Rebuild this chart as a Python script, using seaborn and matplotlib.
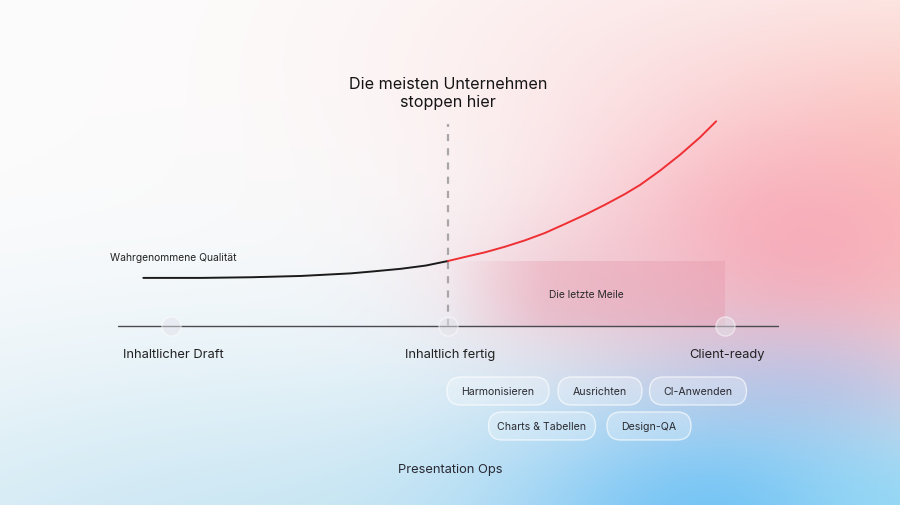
import numpy as np
import pandas as pd
import matplotlib.pyplot as plt
import seaborn as sns
from matplotlib.patches import FancyBboxPatch

# data: stage position (0 = draft, 1 = content done, 2 = client-ready), perceived quality (1.0 = content done)
stage_labels = ["Inhaltlicher Draft", "Inhaltlich fertig", "Client-ready"]
stage_pos = [0, 1, 2]

before_x = [-0.10, 0.11, 0.29, 0.47, 0.65, 0.73, 0.83, 0.92, 1.00]
before_q = [0.74, 0.74, 0.75, 0.77, 0.81, 0.84, 0.88, 0.93, 1.00]

after_x = [1.000, 1.061, 1.134, 1.206, 1.278, 1.350, 1.422, 1.495, 1.567,
           1.639, 1.693, 1.765, 1.838, 1.910, 1.968]
after_q = [1.000, 1.062, 1.134, 1.220, 1.318, 1.431, 1.569, 1.712, 1.866,
           2.031, 2.169, 2.389, 2.635, 2.903, 3.149]

stop_stage = 1
stop_label = "Die meisten Unternehmen\nstoppen hier"
curve_label = "Wahrgenommene Qualität"
last_mile_label = "Die letzte Meile"
pill_row1 = ["Harmonisieren", "Ausrichten", "CI-Anwenden"]
pill_row2 = ["Charts & Tabellen", "Design-QA"]
footer = "Presentation Ops"

sns.set_theme(style="white")
plt.rcParams["font.family"] = ["Inter", "DejaVu Sans"]

W, H = 900, 506
fig = plt.figure(figsize=(9, 5.06), dpi=100)

# background gradient (pixel layer)
bg = fig.add_axes([0, 0, 1, 1])
yy, xx = np.mgrid[0:H, 0:W].astype(float)
img = np.ones((H, W, 3)) * np.array([253, 252, 252]) / 255


def blob(img, cx, cy, rx, ry, color, strength):
    w = strength * np.exp(-(((xx - cx) / rx) ** 2 + ((yy - cy) / ry) ** 2))
    return img * (1 - w[..., None]) + np.array(color)[None, None, :] / 255 * w[..., None]


img = blob(img, 680, 60, 330, 170, (252, 228, 228), 0.7)
img = blob(img, 300, 590, 600, 240, (196, 228, 242), 0.95)
img = blob(img, 940, 200, 190, 180, (252, 198, 184), 0.9)
img = blob(img, 790, 250, 210, 150, (248, 168, 182), 0.9)
img = blob(img, 600, 285, 140, 70, (242, 188, 200), 0.5)
img = blob(img, 810, 385, 140, 60, (205, 188, 225), 0.6)
img = blob(img, 720, 530, 230, 140, (115, 195, 245), 1.0)
img = blob(img, 900, 520, 120, 90, (140, 215, 245), 0.7)
bg.imshow(np.clip(img, 0, 1), extent=[0, W, H, 0], aspect="auto", interpolation="bilinear")
bg.set_xlim(0, W)
bg.set_ylim(H, 0)
bg.axis("off")

# data axes: stage 0 at 171 px, 277 px per stage; quality 0 at 327 px, 65 px per unit
ax = fig.add_axes([0, 0, 1, 1])
ax.patch.set_alpha(0)
xlim = (-171 / 277, (W - 171) / 277)
ylim = (-(H - 327) / 65, 327 / 65)

# last mile band
band = np.zeros((2, 200, 4))
band[..., :3] = np.array([228, 140, 162]) / 255
band[..., 3] = np.clip(np.linspace(0, 1, 200) / 0.35, 0, 1) * 0.3
ax.imshow(band, extent=[stage_pos[1], stage_pos[2], 0, before_q[-1]], aspect="auto", zorder=1)

# timeline
ax.plot([-0.19, 2.19], [0, 0], color="#4a4a50", lw=1.0, zorder=2)
ax.plot([stop_stage, stop_stage], [0, 3.11], color="#a8a6a8", lw=1.6, ls=(0, (3.2, 3.2)), zorder=2)

before = pd.DataFrame({"x": before_x, "q": before_q})
after = pd.DataFrame({"x": after_x, "q": after_q})
sns.lineplot(data=before, x="x", y="q", color="#1a1a1a", lw=1.4, ax=ax, zorder=3, sort=False)
sns.lineplot(data=after, x="x", y="q", color="#ee3034", lw=1.4, ax=ax, zorder=3, sort=False)

sns.scatterplot(x=stage_pos, y=[0] * 3, s=190, color="#e4e3ea", alpha=0.5,
                edgecolor="white", linewidth=1.0, ax=ax, zorder=4)

for p, lab in zip(stage_pos, stage_labels):
    ax.text(p + 0.008, -0.43, lab, ha="center", va="center", fontsize=9.3, color="#222222")

ax.text(stop_stage, 3.585, stop_label, ha="center", va="center", fontsize=11.6,
        color="#151515", linespacing=1.25)
ax.text(before_x[0] - 0.12, 1.06, curve_label, ha="left", va="center", fontsize=7.4, color="#222222")
ax.text(1.5, 0.49, last_mile_label, ha="center", va="center", fontsize=7.4, color="#2a2a2a")

ax.set_xlim(xlim)
ax.set_ylim(ylim)
ax.axis("off")

# pills (pixel layer)
lay = fig.add_axes([0, 0, 1, 1])
lay.patch.set_alpha(0)
lay.set_xlim(0, W)
lay.set_ylim(H, 0)
lay.axis("off")


def pill(cx, cy, w, label):
    h = 28
    box = FancyBboxPatch((cx - w / 2, cy - h / 2), w, h,
                         boxstyle="round,pad=0,rounding_size=14",
                         facecolor=(1, 1, 1, 0.25), edgecolor=(1, 1, 1, 0.65), lw=1.0)
    lay.add_patch(box)
    lay.text(cx, cy, label, ha="center", va="center", fontsize=7.6, color="#2a2a30")


for cx, w, lab in zip([498, 600, 698], [102, 84, 97], pill_row1):
    pill(cx, 392, w, lab)
for cx, w, lab in zip([542, 649], [107, 84], pill_row2):
    pill(cx, 427, w, lab)

lay.text(450, 470, footer, ha="center", va="center", fontsize=9.3, color="#2a2a35")

fig.savefig("out.png", dpi=100)
